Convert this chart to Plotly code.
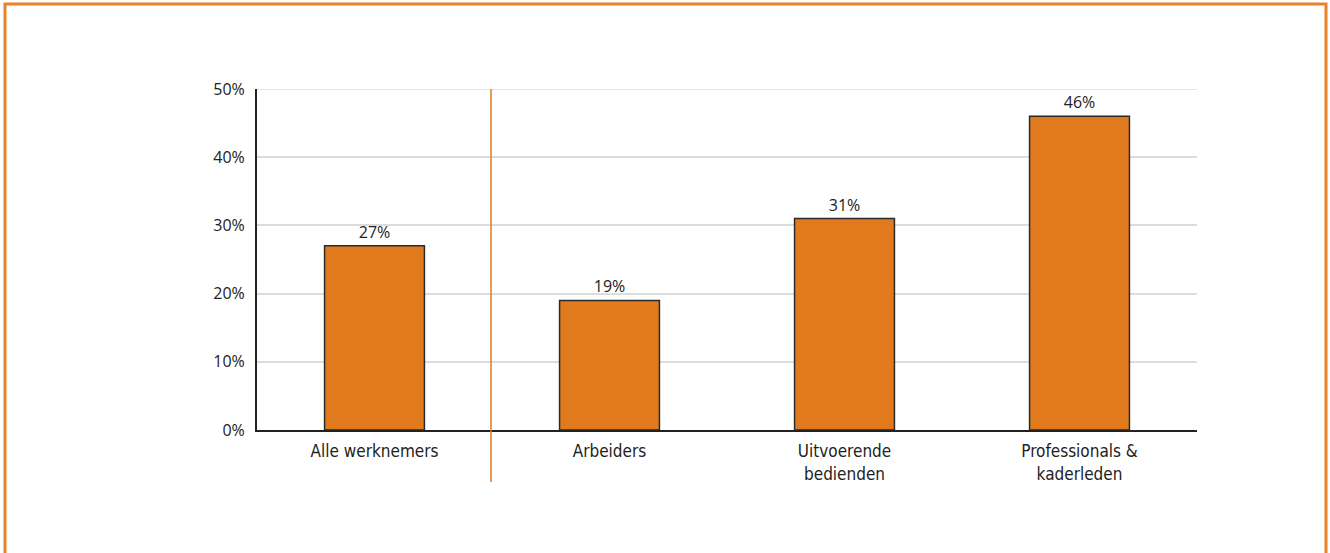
import plotly.graph_objects as go

categories = ["Alle werknemers", "Arbeiders", "Uitvoerende<br>bedienden", "Professionals &<br>kaderleden"]
values = [27, 19, 31, 46]
labels = ["27%", "19%", "31%", "46%"]
tick_vals = [0, 10, 20, 30, 40, 50]
tick_text = ["0%", "10%", "20%", "30%", "40%", "50%"]

W, H = 1330, 553
L, R, T, B = 257, 1197, 89, 430

fig = go.Figure()
fig.add_trace(go.Bar(
    x=categories, y=values, text=labels, textposition="outside",
    textfont=dict(family="Open Sans, DejaVu Sans", size=16, color="#222222"),
    marker=dict(color="#E07A1C", line=dict(color="#2a2a2a", width=1.5)),
    width=0.425, cliponaxis=False, hoverinfo="skip",
))

def px_x(x):
    return (x - L) / (R - L)

def px_y(y):
    return (B - y) / (B - T)

fig.update_layout(
    width=W, height=H,
    margin=dict(l=L, r=W - R, t=T, b=H - B, pad=0),
    paper_bgcolor="white", plot_bgcolor="white",
    showlegend=False,
    bargap=0.575,
    xaxis=dict(
        showline=True, linecolor="#222222", linewidth=2,
        tickfont=dict(family="DejaVu Sans Condensed, Liberation Sans Narrow, Roboto", size=17, color="#222222"),
        ticks="", showgrid=False, ticklabelstandoff=5,
    ),
    yaxis=dict(
        range=[0, 50], tickvals=tick_vals, ticktext=tick_text,
        showline=True, linecolor="#222222", linewidth=2,
        showgrid=True, gridcolor="#dcdcdc", gridwidth=1.5,
        tickfont=dict(family="Open Sans, DejaVu Sans", size=16, color="#222222"),
        ticks="", ticklabelstandoff=7, zeroline=False,
    ),
    shapes=[
        dict(type="line", xref="paper", yref="y",
             x0=0, x1=1, y0=50, y1=50,
             line=dict(color="#dcdcdc", width=1.5), layer="below"),
        dict(type="line", xref="paper", yref="paper",
             x0=px_x(491), x1=px_x(491), y0=px_y(482), y1=1,
             line=dict(color="#E07A1C", width=1.5)),
        dict(type="rect", xref="paper", yref="paper",
             x0=px_x(5), x1=px_x(1326), y0=px_y(600), y1=px_y(4),
             line=dict(color="#E8832A", width=3), fillcolor="rgba(0,0,0,0)", layer="below"),
    ],
)

fig.write_html("out.html", config={"displayModeBar": False},
               post_script="document.body.style.margin='0';")
